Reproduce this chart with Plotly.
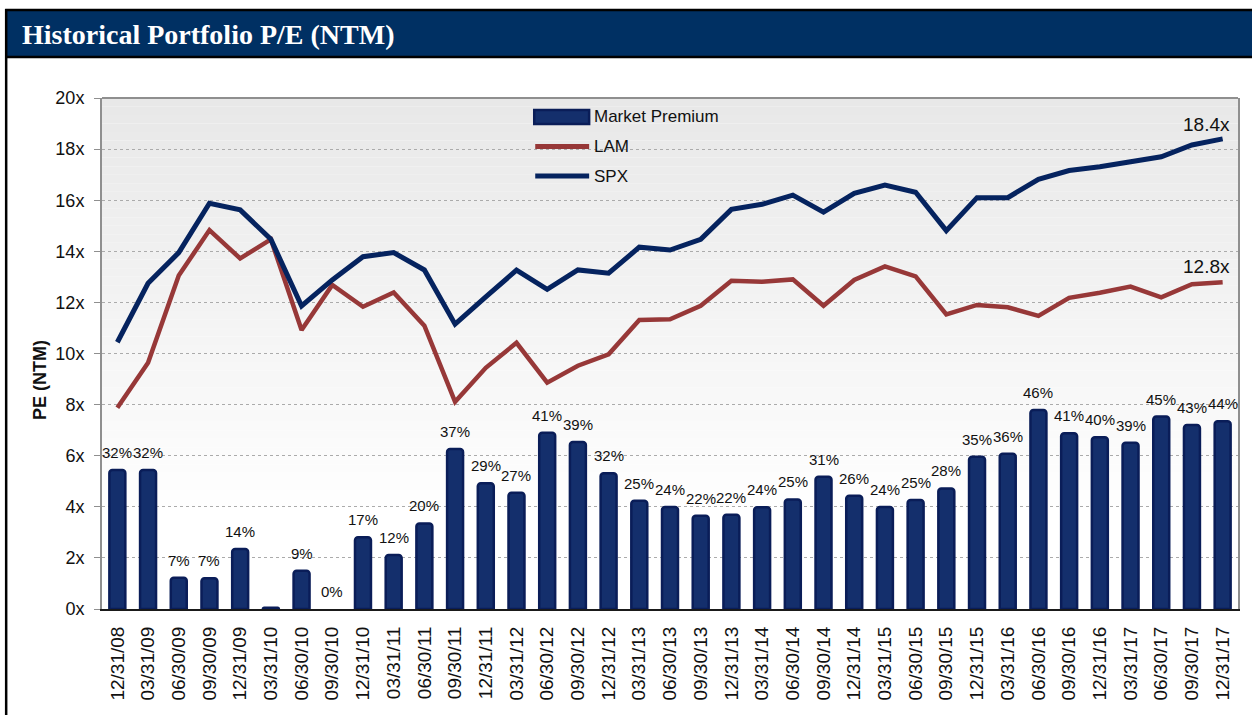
import plotly.graph_objects as go

# ---------------- data ----------------
dates = ["12/31/08", "03/31/09", "06/30/09", "09/30/09", "12/31/09", "03/31/10", "06/30/10",
         "09/30/10", "12/31/10", "03/31/11", "06/30/11", "09/30/11", "12/31/11", "03/31/12",
         "06/30/12", "09/30/12", "12/31/12", "03/31/13", "06/30/13", "09/30/13", "12/31/13",
         "03/31/14", "06/30/14", "09/30/14", "12/31/14", "03/31/15", "06/30/15", "09/30/15",
         "12/31/15", "03/31/16", "06/30/16", "09/30/16", "12/31/16", "03/31/17", "06/30/17",
         "09/30/17", "12/31/17"]

market_premium = [5.44, 5.44, 1.22, 1.20, 2.35, 0.05, 1.50, 0.00, 2.81, 2.11,
                  3.35, 6.26, 4.92, 4.55, 6.90, 6.54, 5.31, 4.24, 3.99, 3.65,
                  3.69, 3.98, 4.29, 5.18, 4.43, 3.99, 4.27, 4.72, 5.96, 6.08,
                  7.79, 6.88, 6.72, 6.51, 7.53, 7.20, 7.35]

premium_labels = ["32%", "32%", "7%", "7%", "14%", "", "9%", "0%", "17%", "12%",
                  "20%", "37%", "29%", "27%", "41%", "39%", "32%", "25%", "24%", "22%",
                  "22%", "24%", "25%", "31%", "26%", "24%", "25%", "28%", "35%", "36%",
                  "46%", "41%", "40%", "39%", "45%", "43%", "44%"]

lam = [7.88, 9.64, 13.05, 14.83, 13.72, 14.47, 10.92, 12.68, 11.83, 12.39,
       11.09, 8.11, 9.44, 10.42, 8.86, 9.52, 9.97, 11.31, 11.34, 11.87,
       12.85, 12.81, 12.90, 11.87, 12.88, 13.41, 13.02, 11.53, 11.90, 11.81,
       11.47, 12.18, 12.38, 12.62, 12.20, 12.71, 12.79]

spx = [10.44, 12.75, 13.95, 15.88, 15.62, 14.47, 11.86, 12.88, 13.79, 13.95,
       13.27, 11.15, 12.22, 13.26, 12.51, 13.27, 13.14, 14.16, 14.05, 14.47,
       15.64, 15.84, 16.20, 15.53, 16.27, 16.59, 16.31, 14.81, 16.10, 16.10,
       16.82, 17.16, 17.31, 17.51, 17.70, 18.16, 18.40]

y_ticks = [0, 2, 4, 6, 8, 10, 12, 14, 16, 18, 20]
y_tick_labels = [f"{v}x" for v in y_ticks]

# ---------------- layout helpers ----------------
W, H = 1252, 715
L, R, T, B = 102, 1240, 98, 609  # plot area in pixels
NAVY = "#05235f"
RED = "#973838"
BAR_FILL = "#142f6c"
BAR_EDGE = "#0a1d58"
SANS = "Liberation Sans, Arial, sans-serif"


def px2x(px):
    return (px - L) / (R - L)


def py2y(py):
    return (B - py) / (B - T)


fig = go.Figure()

fig.add_trace(go.Bar(
    x=dates, y=market_premium, name="Market Premium",
    width=0.52,
    marker=dict(color=BAR_FILL,
                line=dict(color=BAR_EDGE, width=[2.5 if v > 0 else 0 for v in market_premium]),
                cornerradius=3),
    showlegend=False, hoverinfo="skip",
))
fig.add_trace(go.Scatter(
    x=dates, y=lam, name="LAM", mode="lines",
    line=dict(color=RED, width=4.5), showlegend=False,
))
fig.add_trace(go.Scatter(
    x=dates, y=spx, name="SPX", mode="lines",
    line=dict(color=NAVY, width=5), showlegend=False,
))

shapes = []
# gradient background bands (top gray -> white)
n_bands = 48
top_v, bot_v = 20.0, 4.0
for k in range(n_bands):
    v1 = top_v - (top_v - bot_v) * k / n_bands
    v0 = top_v - (top_v - bot_v) * (k + 1) / n_bands
    t = k / (n_bands - 1)
    c = int(round(232 + (254 - 232) * t))
    shapes.append(dict(type="rect", xref="x domain", yref="y", x0=0, x1=1, y0=v0, y1=v1,
                       fillcolor=f"rgb({c},{c},{c})", line=dict(width=0), layer="below"))
# plot frame top line (gray)
shapes.append(dict(type="line", xref="paper", yref="paper", x0=0, x1=1, y0=1, y1=1,
                   line=dict(color="#8f8f8f", width=2)))

# header bar and outer frame
shapes.append(dict(type="rect", xref="paper", yref="paper",
                   x0=px2x(6), x1=px2x(1260), y0=py2y(56), y1=py2y(10),
                   fillcolor="#003063", line=dict(width=0), layer="above"))
shapes.append(dict(type="line", xref="paper", yref="paper",
                   x0=px2x(5), x1=px2x(1260), y0=py2y(10), y1=py2y(10),
                   line=dict(color="#000000", width=2.5)))
shapes.append(dict(type="line", xref="paper", yref="paper",
                   x0=px2x(5), x1=px2x(1260), y0=py2y(57), y1=py2y(57),
                   line=dict(color="#000000", width=2.5)))
shapes.append(dict(type="line", xref="paper", yref="paper",
                   x0=px2x(6), x1=px2x(6), y0=py2y(9), y1=py2y(720),
                   line=dict(color="#000000", width=2.5)))

# manual legend symbols
shapes.append(dict(type="rect", xref="paper", yref="paper",
                   x0=px2x(535), x1=px2x(590), y0=py2y(124), y1=py2y(110),
                   fillcolor=BAR_FILL, line=dict(color=BAR_EDGE, width=2.5)))
shapes.append(dict(type="line", xref="paper", yref="paper",
                   x0=px2x(536), x1=px2x(590), y0=py2y(146.5), y1=py2y(146.5),
                   line=dict(color=RED, width=5)))
shapes.append(dict(type="line", xref="paper", yref="paper",
                   x0=px2x(536), x1=px2x(590), y0=py2y(176), y1=py2y(176),
                   line=dict(color=NAVY, width=5)))

annotations = []
# title
annotations.append(dict(text="<b>Historical Portfolio P/E (NTM)</b>", xref="paper", yref="paper",
                        x=px2x(20), y=py2y(34), xanchor="left", yanchor="middle", showarrow=False,
                        font=dict(family="Liberation Serif, Times New Roman, serif", size=28, color="white")))
# legend texts
for label, py in [("Market Premium", 116.5), ("LAM", 146.5), ("SPX", 176)]:
    annotations.append(dict(text=label, xref="paper", yref="paper", x=px2x(593), y=py2y(py),
                            xanchor="left", yanchor="middle", showarrow=False,
                            font=dict(family=SANS, size=17, color="#111111")))
# y axis title
annotations.append(dict(text="<b>PE (NTM)</b>", xref="paper", yref="paper", x=px2x(40), y=py2y(380),
                        xanchor="center", yanchor="middle", textangle=-90, showarrow=False,
                        font=dict(family=SANS, size=18, color="#111111")))
# bar value labels
for d, v, lab in zip(dates, market_premium, premium_labels):
    if lab:
        annotations.append(dict(text=lab, x=d, y=v, xref="x", yref="y", xanchor="center",
                                yanchor="bottom", yshift=7, showarrow=False,
                                font=dict(family=SANS, size=15, color="#111111")))
# end labels
annotations.append(dict(text=f"{spx[-1]:.1f}x", x=dates[-1], y=spx[-1], xref="x", yref="y",
                        xanchor="center", yanchor="bottom", xshift=-16, yshift=2, showarrow=False,
                        font=dict(family=SANS, size=19, color="#111111")))
annotations.append(dict(text=f"{lam[-1]:.1f}x", x=dates[-1], y=lam[-1], xref="x", yref="y",
                        xanchor="center", yanchor="bottom", xshift=-16, yshift=3, showarrow=False,
                        font=dict(family=SANS, size=19, color="#111111")))

fig.update_layout(
    width=W, height=H,
    margin=dict(l=L, r=W - R, t=T, b=H - B, pad=0),
    paper_bgcolor="white", plot_bgcolor="white",
    shapes=shapes, annotations=annotations,
    showlegend=False,
    font=dict(family=SANS, color="#111111"),
    xaxis=dict(
        type="category", categoryorder="array", categoryarray=dates,
        range=[-0.5, len(dates) - 0.5],
        tickangle=-90, tickfont=dict(family=SANS, size=19, color="#111111"),
        showgrid=False, showline=True, linecolor="#1a1a1a", linewidth=2,
        ticks="", ticklabelstandoff=8, zeroline=False, fixedrange=True,
    ),
    yaxis=dict(
        range=[0, 20], tickvals=y_ticks, ticktext=y_tick_labels,
        tickfont=dict(family=SANS, size=18, color="#111111"),
        showgrid=True, gridcolor="#ababab", griddash="dot", gridwidth=1,
        showline=True, linecolor="#8f8f8f", linewidth=2, mirror=True,
        ticks="outside", ticklen=6, tickcolor="#8f8f8f", tickwidth=1,
        ticklabelstandoff=6, zeroline=False, fixedrange=True,
    ),
)

fig.write_html("out.html", config={"displayModeBar": False},
               post_script="document.body.style.margin='0px';document.body.style.overflow='hidden';")
